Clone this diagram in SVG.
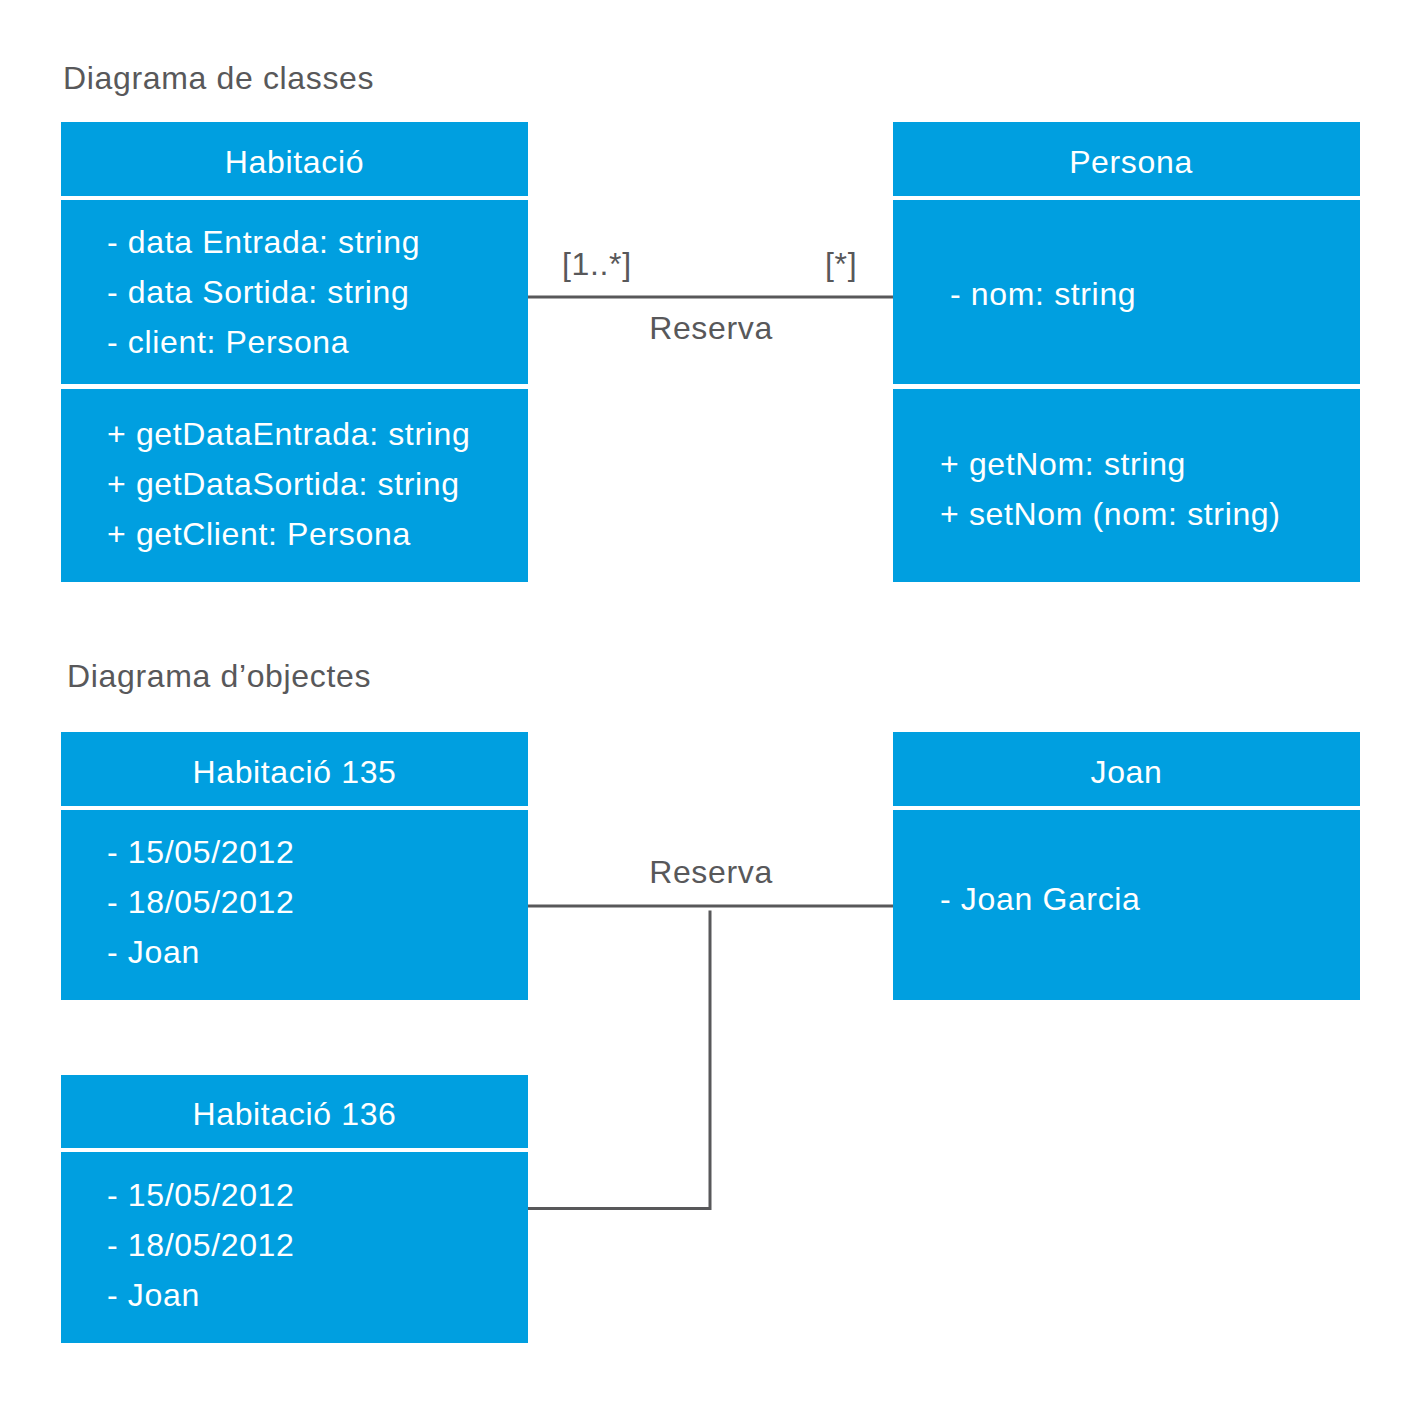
<svg xmlns="http://www.w3.org/2000/svg" width="1421" height="1405" viewBox="0 0 1421 1405">
  <style>
    text { font-family: "Liberation Sans", Arial, Helvetica, sans-serif; font-size: 32px; letter-spacing: 0.65px; }
    .box { fill: #009fe0; }
    .w { fill: #ffffff; }
    .hd { fill: #ffffff; text-anchor: middle; }
    .g { fill: #58585a; }
    .gc { fill: #58585a; text-anchor: middle; }
    .conn { fill: none; stroke: #58585a; stroke-width: 3; }
  </style>
  <rect width="1421" height="1405" fill="#ffffff"/>

  <text id="title-classes" class="g" x="63" y="89">Diagrama de classes</text>
  <text id="title-objectes" class="g" x="67" y="687">Diagrama d’objectes</text>

  <g id="connectors">
    <line class="conn" x1="528" y1="297" x2="893" y2="297"/>
    <line class="conn" x1="528" y1="906" x2="893" y2="906"/>
    <polyline class="conn" points="528,1208.5 710,1208.5 710,910.5"/>
    <text class="g" x="562" y="275">[1..*]</text>
    <text class="g" x="825" y="275">[*]</text>
    <text class="gc" x="711" y="339">Reserva</text>
    <text class="gc" x="711" y="883">Reserva</text>
  </g>

  <g id="habitacio">
    <rect class="box" x="61" y="122" width="467" height="74"/>
    <rect class="box" x="61" y="200" width="467" height="184"/>
    <rect class="box" x="61" y="389" width="467" height="193"/>
    <text class="hd" x="294.5" y="173">Habitació</text>
    <text class="w" x="107" y="253">- data Entrada: string</text>
    <text class="w" x="107" y="303">- data Sortida: string</text>
    <text class="w" x="107" y="353">- client: Persona</text>
    <text class="w" x="107" y="445">+ getDataEntrada: string</text>
    <text class="w" x="107" y="495">+ getDataSortida: string</text>
    <text class="w" x="107" y="545">+ getClient: Persona</text>
  </g>

  <g id="persona">
    <rect class="box" x="893" y="122" width="467" height="74"/>
    <rect class="box" x="893" y="200" width="467" height="184"/>
    <rect class="box" x="893" y="389" width="467" height="193"/>
    <text class="hd" x="1131" y="173">Persona</text>
    <text class="w" x="950" y="305">- nom: string</text>
    <text class="w" x="940" y="475">+ getNom: string</text>
    <text class="w" x="940" y="525">+ setNom (nom: string)</text>
  </g>

  <g id="habitacio-135">
    <rect class="box" x="61" y="732" width="467" height="74"/>
    <rect class="box" x="61" y="810" width="467" height="190"/>
    <text class="hd" x="294.5" y="783">Habitació 135</text>
    <text class="w" x="107" y="863">- 15/05/2012</text>
    <text class="w" x="107" y="913">- 18/05/2012</text>
    <text class="w" x="107" y="963">- Joan</text>
  </g>

  <g id="habitacio-136">
    <rect class="box" x="61" y="1075" width="467" height="73"/>
    <rect class="box" x="61" y="1152" width="467" height="191"/>
    <text class="hd" x="294.5" y="1125">Habitació 136</text>
    <text class="w" x="107" y="1206">- 15/05/2012</text>
    <text class="w" x="107" y="1256">- 18/05/2012</text>
    <text class="w" x="107" y="1306">- Joan</text>
  </g>

  <g id="joan">
    <rect class="box" x="893" y="732" width="467" height="74"/>
    <rect class="box" x="893" y="810" width="467" height="190"/>
    <text class="hd" x="1126.5" y="783">Joan</text>
    <text class="w" x="940" y="910">- Joan Garcia</text>
  </g>
</svg>
